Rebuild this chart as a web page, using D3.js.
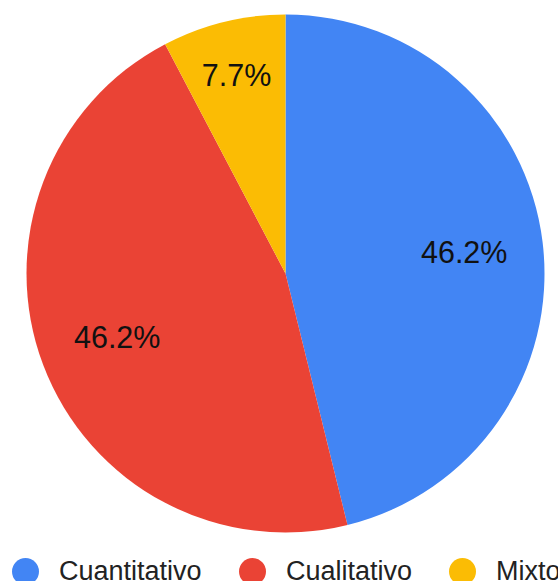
<!DOCTYPE html>
<html>
<head>
<meta charset="utf-8">
<script src="https://cdn.jsdelivr.net/npm/d3@7"></script>
<style>
  html, body { margin: 0; padding: 0; background: #fff; overflow: hidden; }
  svg { display: block; font-family: Arial, "Liberation Sans", sans-serif; }
</style>
</head>
<body>
<svg id="chart"></svg>
<script>
var categories = ['Cuantitativo', 'Cualitativo', 'Mixto'];
var counts = [6, 6, 1];
var colors = ['#4285F4', '#EA4335', '#FBBC04'];

var width = 558, height = 581,
    cx = 285.5, cy = 273.5, radius = 259;

var svg = d3.select('#chart')
    .attr('width', width)
    .attr('height', height);

var data = categories.map(function (c, i) {
    return { name: c, value: counts[i], color: colors[i] };
});
var total = d3.sum(counts);

var pie = d3.pie()
    .sort(null)
    .value(function (d) { return d.value; });

var arc = d3.arc()
    .innerRadius(0)
    .outerRadius(radius);

var chart = svg.append('g')
    .attr('transform', 'translate(' + cx + ',' + cy + ')');

var arcs = pie(data);

chart.selectAll('.slice')
    .data(arcs)
    .enter().append('path')
    .attr('class', 'slice')
    .attr('d', arc)
    .attr('fill', function (d) { return d.data.color; });

// labels, small slices pushed a bit outwards
chart.selectAll('.lbl')
    .data(arcs)
    .enter().append('text')
    .attr('class', 'lbl')
    .attr('transform', function (d) {
        var share = d.data.value / total;
        var r = share < 0.1 ? radius * 0.79 : radius * 0.695;
        var a = (d.startAngle + d.endAngle) / 2;
        return 'translate(' + (r * Math.sin(a)) + ',' + (-r * Math.cos(a)) + ')';
    })
    .attr('text-anchor', 'middle')
    .attr('dy', '0.36em')
    .style('font-size', '30.5px')
    .style('fill', '#111')
    .text(function (d) {
        return d3.format('.1%')(d.data.value / total);
    });

// legend (runs off the bottom/right edge like the original)
var legendX = [25.5, 252.5, 462.5];
var legend = svg.selectAll('.legend')
    .data(data)
    .enter().append('g')
    .attr('class', 'legend')
    .attr('transform', function (d, i) {
        return 'translate(' + legendX[i] + ',571.5)';
    });

legend.append('circle')
    .attr('r', 13.5)
    .attr('fill', function (d) { return d.color; });

legend.append('text')
    .attr('x', 33.5)
    .attr('y', 8)
    .style('font-size', '27px')
    .style('fill', '#222')
    .text(function (d) { return d.name; });
</script>
</body>
</html>
